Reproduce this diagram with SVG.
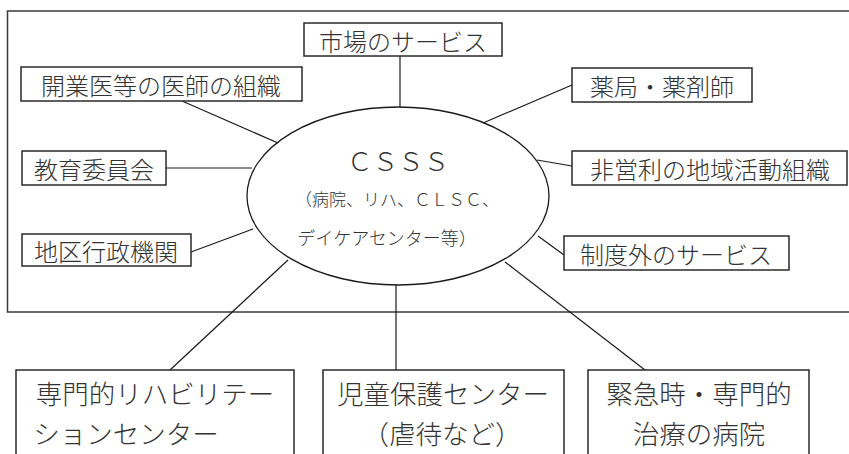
<svg xmlns="http://www.w3.org/2000/svg" width="849" height="454" viewBox="0 0 849 454">
<style>
.box{fill:#fff;stroke:#2a2a2a;stroke-width:1.5}
.frame{fill:none;stroke:#3a3a3a;stroke-width:1.5}
.ln{stroke:#1a1a1a;stroke-width:1.2;fill:none}
text{font-family:"Noto Sans CJK JP","Liberation Serif",serif;fill:#333;text-anchor:middle;dominant-baseline:central;font-weight:300}
.t24{font-size:24px}
.t26{font-size:26.5px}
</style>
<rect width="849" height="454" fill="#fff"/>
<rect class="frame" x="7.5" y="11" width="880" height="301"/>
<g id="connectors">
<line class="ln" x1="400" y1="56" x2="400" y2="107"/>
<line class="ln" x1="182" y1="101" x2="278" y2="143"/>
<line class="ln" x1="572" y1="85" x2="483" y2="123"/>
<line class="ln" x1="166" y1="168" x2="252" y2="168"/>
<line class="ln" x1="572" y1="166" x2="537" y2="160"/>
<line class="ln" x1="191" y1="252" x2="253" y2="229"/>
<line class="ln" x1="564" y1="255" x2="538" y2="236"/>
<line class="ln" x1="288" y1="260" x2="170" y2="370"/>
<line class="ln" x1="396" y1="285" x2="396" y2="370"/>
<line class="ln" x1="505" y1="262" x2="645" y2="370"/>
</g>
<g id="csss">
<ellipse cx="398" cy="196" rx="151" ry="89" fill="none" stroke="#1a1a1a" stroke-width="1.3"/>
<text x="398" y="159" style="font-size:25.5px">ＣＳＳＳ</text>
<text x="397" y="198" style="font-size:17px">（病院、リハ、ＣＬＳＣ、</text>
<text x="387" y="237" style="font-size:18px">デイケアセンター等）</text>
</g>
<g id="market"><rect class="box" x="304" y="23" width="198" height="33"/><text class="t24" x="403" y="40">市場のサービス</text></g>
<g id="doctors"><rect class="box" x="21" y="67" width="281" height="34"/><text class="t24" x="161" y="84">開業医等の医師の組織</text></g>
<g id="pharmacy"><rect class="box" x="572" y="68" width="180" height="34"/><text class="t24" x="662" y="85">薬局・薬剤師</text></g>
<g id="education"><rect class="box" x="22" y="151" width="144" height="34"/><text class="t24" x="94" y="168">教育委員会</text></g>
<g id="nonprofit"><rect class="box" x="572" y="151" width="275" height="34"/><text class="t24" x="710" y="168">非営利の地域活動組織</text></g>
<g id="district"><rect class="box" x="22" y="234" width="169" height="32"/><text class="t24" x="106" y="250">地区行政機関</text></g>
<g id="informal"><rect class="box" x="564" y="236" width="225" height="34"/><text class="t24" x="676" y="253">制度外のサービス</text></g>
<g id="rehab"><rect class="box" x="16" y="370" width="278" height="100"/><text class="t26" x="155" y="392">専門的リハビリテー</text><text class="t26" x="126" y="432">ションセンター</text></g>
<g id="child"><rect class="box" x="323" y="370" width="241" height="100"/><text class="t26" x="443" y="392">児童保護センター</text><text class="t26" x="442" y="432">（虐待など）</text></g>
<g id="emergency"><rect class="box" x="588" y="370" width="221" height="100"/><text class="t26" x="699" y="392">緊急時・専門的</text><text class="t26" x="699" y="432">治療の病院</text></g>
</svg>
